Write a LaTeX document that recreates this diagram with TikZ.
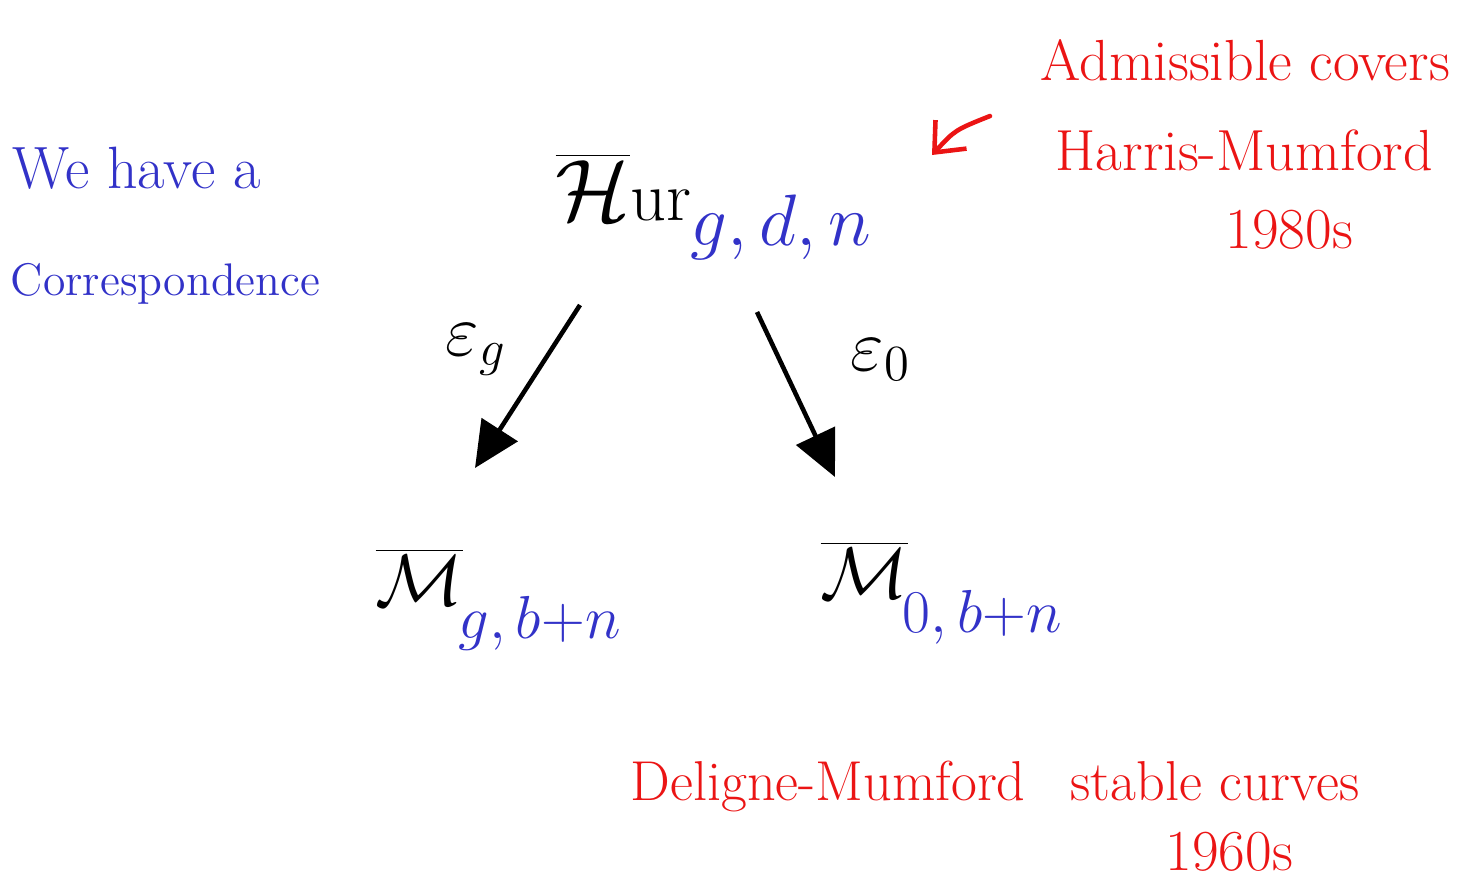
\documentclass[tikz,border=0pt]{standalone}
\usetikzlibrary{arrows.meta}
\definecolor{hblue}{RGB}{50,50,200}
\definecolor{hred}{RGB}{235,20,20}
\begin{document}
\begin{tikzpicture}[x=1cm,y=1cm,
  bluetxt/.style={text=hblue, inner sep=0pt, anchor=base west, font=\fontsize{17}{20}\selectfont},
  redtxt/.style={text=hred, inner sep=0pt, anchor=base west, font=\fontsize{16.5}{19}\selectfont},
  mathbig/.style={inner sep=0pt, anchor=base west, font=\fontsize{28}{30}\selectfont},
  mathsub/.style={text=hblue, inner sep=0pt, anchor=base west, font=\fontsize{21}{24}\selectfont},
  maplabel/.style={inner sep=0pt, anchor=base west, font=\fontsize{20}{22}\selectfont},
  mapline/.style={draw=black, line width=1.3pt, -{Triangle[length=13pt,width=12pt]}},
  notearrow/.style={draw=hred, line width=1.3pt, line cap=round, -{Straight Barb[length=7pt,width=12pt]}},
]
\useasboundingbox (0,0) rectangle (14.78,-8.88);

% blue note
\node[bluetxt] (we) at (0.12,-1.88) {We have a};
\node[bluetxt, font=\fontsize{13}{16}\selectfont] (corr) at (0.10,-2.95) {Correspondence};

% main objects
\node[mathbig] (hur) at (5.55,-2.20) {$\overline{\mathcal{H}}$\fontsize{20}{22}\selectfont ur};
\node[mathsub] (hursub) at (6.90,-2.45) {$g,d,n$};

\node[mathbig, font=\fontsize{22}{24}\selectfont] (ml) at (3.75,-6.05) {$\overline{\mathcal{M}}$};
\node[mathsub, font=\fontsize{16}{18}\selectfont] (mlsub) at (4.58,-6.38) {$g,b{+}n$};

\node[mathbig, font=\fontsize{22}{24}\selectfont] (mr) at (8.20,-5.98) {$\overline{\mathcal{M}}$};
\node[mathsub, font=\fontsize{16}{18}\selectfont] (mrsub) at (9.02,-6.32) {$0,b{+}n$};

% maps
\coordinate (l1) at (5.80,-3.05);
\coordinate (l2) at (4.75,-4.68);
\coordinate (r1) at (7.57,-3.12);
\coordinate (r2) at (8.35,-4.77);
\draw[mapline] (l1) -- (l2);
\draw[mapline] (r1) -- (r2);
\node[maplabel] (eg) at (4.45,-3.55) {$\varepsilon_g$};
\node[maplabel] (e0) at (8.50,-3.70) {$\varepsilon_0$};

% red notes
\node[redtxt] (adm) at (10.40,-0.80) {Admissible covers};
\node[redtxt] (hm) at (10.55,-1.70) {Harris-Mumford};
\node[redtxt] (y80) at (12.25,-2.48) {1980s};
\coordinate (n1) at (9.90,-1.16);
\coordinate (n2) at (9.32,-1.55);
\draw[notearrow] (n1) .. controls (9.55,-1.30) .. (n2);

\node[redtxt, font=\fontsize{16}{19}\selectfont] (dm) at (6.30,-8.00) {Deligne-Mumford\enspace\ stable curves};
\node[redtxt] (y60) at (11.65,-8.70) {1960s};
\end{tikzpicture}
\end{document}
